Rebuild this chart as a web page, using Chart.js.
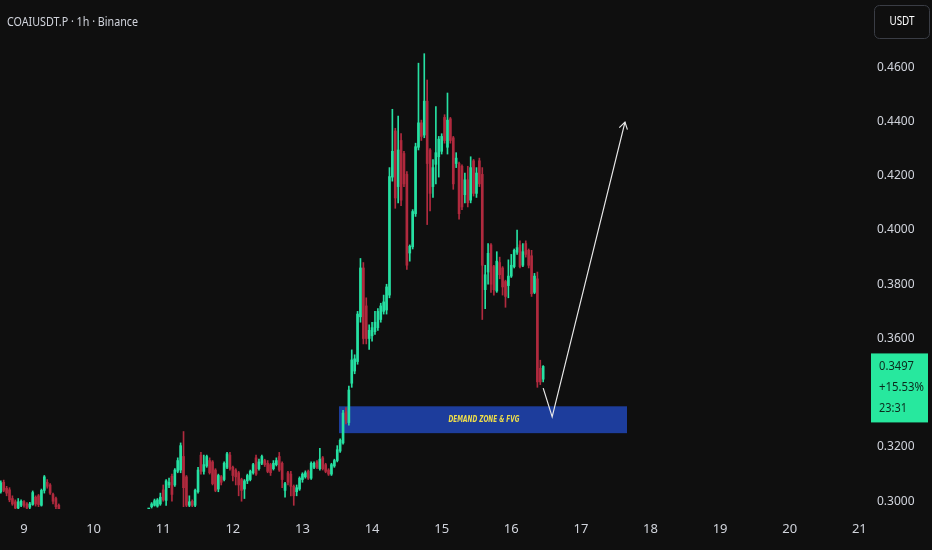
<!DOCTYPE html>
<html>
<head>
<meta charset="utf-8">
<script src="https://cdn.jsdelivr.net/npm/chart.js@4.4.1/dist/chart.umd.min.js"></script>
<style>
  html, body { margin: 0; background: #0f0f0f; }
  #wrap { position: relative; width: 932px; height: 550px; }
</style>
</head>
<body>
<div id="wrap"><canvas id="chart" width="932" height="550"></canvas></div>
<script>
// hourly candles, hour 0 = day 9 00:00, first candle at hour -8
const firstHour = -8
const opens = [
  .3035,.3070,.3048,.3042,.3010,.2998,.2975,.2985,.2998,.2990,.2978,.2988,
  .3015,.3020,.2985,.3040,.3070,.3060,.3025,.3010,.2985,.2960,.2940,.2930,
  .2938,.2920,.2925,.2935,.2945,.2932,.2915,.2922,.2930,.2925,.2908,.2912,
  .2926,.2936,.2930,.2918,.2930,.2940,.2935,.2928,.2936,.2945,.2940,.2948,
  .2942,.2950,.2946,.2955,.2980,.2985,.2982,.2990,.3042,.3003,.3060,.3092,
  .3060,.3110,.3115,.3165,.3090,.2985,.3000,.2985,.3035,.3170,.3110,.3130,
  .3150,.3145,.3115,.3045,.3090,.3080,.3125,.3170,.3125,.3115,.3105,.3080,
  .3045,.3075,.3080,.3105,.3160,.3120,.3140,.3150,.3140,.3135,.3120,.3135,
  .3165,.3140,.3040,.3105,.3100,.3055,.3035,.3045,.3080,.3090,.3110,.3085,
  .3125,.3145,.3120,.3160,.3135,.3115,.3100,.3130,.3150,.3185,.3215,.3330,
  .3290,.3435,.3480,.3515,.3680,.3860,.3720,.3600,.3610,.3625,.3640,.3670,
  .3700,.3705,.3760,.4195,.4365,.4160,.4330,.4282,.4205,.3915,.3938,.4060,
  .4305,.4395,.4350,.4475,.4295,.4160,.4242,.4270,.4290,.4415,.4305,.4410,
  .4340,.4245,.4245,.4235,.4130,.4185,.4110,.4255,.4135,.4255,.4205,.3780,
  .3845,.3945,.3865,.3775,.3880,.3860,.3810,.3795,.3830,.3865,.3918,.3945,
  .3870,.3950,.3925,.3905,.3770,.3820,.3490,.3450
]
const highs = [
  .3075,.3078,.3055,.3050,.3020,.3005,.3010,.3005,.3002,.2995,.2996,.3038,
  .3020,.3025,.3045,.3095,.3080,.3065,.3030,.3015,.2990,.2962,.2950,.2945,
  .2948,.2932,.2940,.2950,.2955,.2940,.2928,.2935,.2942,.2933,.2920,.2930,
  .2940,.2948,.2938,.2935,.2945,.2952,.2944,.2940,.2950,.2955,.2952,.2958,
  .2955,.2960,.2958,.2962,.2995,.3008,.3010,.3030,.3060,.3080,.3085,.3100,
  .3120,.3160,.3215,.3257,.3095,.3020,.3005,.3045,.3125,.3180,.3170,.3170,
  .3160,.3150,.3120,.3100,.3095,.3145,.3180,.3180,.3130,.3120,.3110,.3085,
  .3080,.3100,.3115,.3140,.3170,.3155,.3170,.3155,.3150,.3140,.3150,.3160,
  .3180,.3145,.3070,.3110,.3110,.3060,.3060,.3090,.3105,.3112,.3115,.3145,
  .3145,.3150,.3195,.3165,.3140,.3120,.3140,.3155,.3205,.3230,.3335,.3345,
  .3425,.3558,.3540,.3700,.3895,.3880,.3750,.3650,.3660,.3700,.3710,.3730,
  .3760,.3800,.4230,.4445,.4375,.4420,.4355,.4290,.4215,.3945,.4075,.4320,
  .4615,.4405,.4650,.4553,.4300,.4260,.4455,.4345,.4355,.4425,.4505,.4415,
  .4345,.4285,.4250,.4240,.4210,.4235,.4270,.4260,.4230,.4265,.4230,.3870,
  .3950,.3950,.3870,.3920,.3900,.3865,.3815,.3890,.3910,.3930,.4000,.3960,
  .3950,.3960,.3930,.3925,.3840,.3845,.3520,.3500
]
const lows = [
  .3030,.3035,.3020,.2998,.2985,.2965,.2970,.2980,.2978,.2965,.2972,.2985,
  .2982,.2980,.2982,.3030,.3048,.3025,.2990,.2970,.2960,.2935,.2925,.2920,
  .2915,.2900,.2918,.2928,.2930,.2910,.2905,.2915,.2920,.2900,.2895,.2905,
  .2918,.2925,.2912,.2910,.2922,.2930,.2920,.2915,.2928,.2935,.2930,.2938,
  .2935,.2940,.2938,.2945,.2975,.2982,.2978,.2985,.3000,.2985,.3050,.3000,
  .3055,.3105,.3105,.2980,.2980,.2980,.2980,.2980,.3030,.3100,.3100,.3125,
  .3100,.3060,.3035,.3035,.3060,.3075,.3120,.3115,.3075,.3060,.3020,.3000,
  .3010,.3065,.3075,.3100,.3095,.3115,.3135,.3128,.3105,.3095,.3115,.3130,
  .3110,.3050,.3015,.3060,.3020,.2985,.3020,.3040,.3070,.3085,.3080,.3080,
  .3120,.3120,.3115,.3115,.3105,.3095,.3095,.3125,.3145,.3180,.3210,.3285,
  .3280,.3420,.3470,.3505,.3660,.3580,.3580,.3560,.3590,.3615,.3630,.3660,
  .3690,.3690,.3750,.4180,.4080,.4100,.4090,.4160,.3855,.3885,.3930,.4050,
  .4295,.4330,.4340,.4020,.4070,.4120,.4170,.4195,.4280,.4320,.4280,.4320,
  .4150,.4230,.4040,.4075,.4100,.4085,.4100,.4125,.4120,.4160,.3670,.3710,
  .3800,.3770,.3760,.3770,.3820,.3760,.3715,.3750,.3825,.3860,.3910,.3860,
  .3865,.3900,.3860,.3755,.3765,.3420,.3430,.3440
]
const closes = [
  .3068,.3040,.3030,.3005,.2990,.2975,.2998,.3000,.2985,.2975,.2990,.3032,
  .2990,.2988,.3040,.3090,.3055,.3030,.3000,.2980,.2970,.2940,.2930,.2938,
  .2920,.2925,.2935,.2945,.2932,.2915,.2922,.2930,.2925,.2908,.2912,.2926,
  .2936,.2930,.2918,.2930,.2940,.2935,.2928,.2936,.2945,.2940,.2948,.2942,
  .2950,.2946,.2955,.2958,.2990,.3002,.3005,.3015,.3005,.3075,.3070,.3025,
  .3115,.3150,.3205,.3050,.2985,.2998,.2985,.3040,.3115,.3110,.3135,.3165,
  .3105,.3065,.3040,.3095,.3070,.3140,.3175,.3120,.3095,.3090,.3060,.3040,
  .3075,.3095,.3110,.3135,.3100,.3145,.3165,.3135,.3110,.3105,.3140,.3150,
  .3115,.3080,.3065,.3070,.3055,.3020,.3050,.3085,.3100,.3105,.3085,.3140,
  .3140,.3125,.3155,.3120,.3110,.3100,.3135,.3150,.3190,.3225,.3325,.3300,
  .3410,.3521,.3525,.3690,.3860,.3600,.3600,.3630,.3640,.3660,.3700,.3720,
  .3735,.3790,.4197,.4290,.4118,.4295,.4110,.4170,.3870,.3940,.4068,.4307,
  .4395,.4345,.4475,.4245,.4135,.4230,.4285,.4335,.4345,.4330,.4405,.4330,
  .4170,.4265,.4060,.4085,.4185,.4100,.4230,.4135,.4210,.4170,.3870,.3835,
  .3914,.3800,.3780,.3885,.3835,.3790,.3755,.3830,.3870,.3925,.3935,.3865,
  .3920,.3910,.3870,.3765,.3830,.3440,.3440,.3497
]

const dayLabels = [9, 10, 11, 12, 13, 14, 15, 16, 17, 18, 19, 20, 21]
const priceTicks = [0.30, 0.32, 0.34, 0.36, 0.38, 0.40, 0.42, 0.44, 0.46]

// demand zone box and the drawn arrow (hours / prices)
const zoneHours = [108.6, 207.9]
const zonePrices = [0.3251, 0.3350]
const arrowHours = [179, 182.1, 207.2]
const arrowPrices = [0.3417, 0.3311, 0.4398]

const lastPrice = 0.3497
const lastChange = '+15.53%'
const countdown = '23:31'

const upColor = '#26e0a2'
const downColor = '#b02a3e'

const hours = opens.map((v, i) => firstHour + i)
const candleColors = opens.map((o, i) => closes[i] >= o ? upColor : downColor)

function fitText(ctx, text, x, y, width, align){
    const w = ctx.measureText(text).width
    ctx.save()
    ctx.translate(x, y)
    ctx.scale(width / w, 1)
    ctx.textAlign = align || 'left'
    ctx.fillText(text, 0, 0)
    ctx.restore()
}

function noPadding(axis){
    axis.paddingTop = 0
    axis.paddingBottom = 0
    axis.paddingLeft = 0
    axis.paddingRight = 0
}

const overlay = {
    id: 'overlay',
    beforeDatasetsDraw(chart){
        const ctx = chart.ctx
        const x = chart.scales.x, y = chart.scales.y
        const x1 = x.getPixelForValue(zoneHours[0]), x2 = x.getPixelForValue(zoneHours[1])
        const y1 = y.getPixelForValue(zonePrices[1]), y2 = y.getPixelForValue(zonePrices[0])
        ctx.save()
        ctx.fillStyle = '#1d3d9c'
        ctx.fillRect(x1, y1, x2 - x1, y2 - y1)
        ctx.fillStyle = '#eedd4a'
        ctx.font = "italic bold 8px 'DejaVu Sans Condensed'"
        ctx.textBaseline = 'middle'
        fitText(ctx, 'DEMAND ZONE & FVG', (x1 + x2) / 2 + 1, (y1 + y2) / 2, 71, 'center')
        ctx.restore()
    },
    afterDatasetsDraw(chart){
        // arrow head at the end of the drawn path
        const ctx = chart.ctx
        const pts = chart.getDatasetMeta(2).data
        const a = pts[pts.length - 2], b = pts[pts.length - 1]
        const ang = Math.atan2(b.y - a.y, b.x - a.x)
        ctx.save()
        ctx.strokeStyle = '#e8e8e8'
        ctx.lineWidth = 1.2
        ctx.beginPath()
        ctx.moveTo(b.x - 8 * Math.cos(ang - 0.55), b.y - 8 * Math.sin(ang - 0.55))
        ctx.lineTo(b.x, b.y)
        ctx.lineTo(b.x - 8 * Math.cos(ang + 0.55), b.y - 8 * Math.sin(ang + 0.55))
        ctx.stroke()
        ctx.restore()
    },
    afterDraw(chart){
        const ctx = chart.ctx
        const y = chart.scales.y
        ctx.save()
        // title
        ctx.fillStyle = '#d1d4dc'
        ctx.font = "13px 'Noto Sans'"
        ctx.textBaseline = 'middle'
        fitText(ctx, 'COAIUSDT.P · 1h · Binance', 7, 22, 131)

        // currency button
        ctx.strokeStyle = '#3a3d45'
        ctx.lineWidth = 1
        ctx.beginPath()
        ctx.roundRect(874.5, 5.5, 55, 33, 5)
        ctx.stroke()
        ctx.fillStyle = '#ffffff'
        ctx.font = "12px 'Noto Sans'"
        fitText(ctx, 'USDT', 902, 22, 25, 'center')

        // last price tag
        const py = y.getPixelForValue(lastPrice)
        ctx.fillStyle = '#27e89e'
        ctx.fillRect(871, py - 13, 57, 69)
        ctx.fillStyle = '#0b2a1d'
        ctx.font = "13px 'Noto Sans'"
        fitText(ctx, lastPrice.toFixed(4), 879, py, 35)
        fitText(ctx, lastChange, 879, py + 21, 45)
        fitText(ctx, countdown, 879, py + 42, 28)
        ctx.restore()
    }
}

new Chart(document.getElementById('chart'), {
    type: 'bar',
    data: {
        datasets: [{
            label: 'wicks',
            data: hours.map((h, i) => ({x: h, y: [lows[i], highs[i]]})),
            backgroundColor: candleColors,
            barThickness: 1,
            grouped: false
        }, {
            label: 'bodies',
            data: hours.map((h, i) => ({x: h, y: [opens[i], closes[i]]})),
            backgroundColor: candleColors,
            barThickness: 2,
            minBarLength: 1,
            grouped: false
        }, {
            type: 'line',
            label: 'path',
            data: arrowHours.map((h, i) => ({x: h, y: arrowPrices[i]})),
            borderColor: '#e8e8e8',
            borderWidth: 1.2,
            pointRadius: 0,
            tension: 0
        }]
    },
    options: {
        responsive: false,
        animation: false,
        devicePixelRatio: 1,
        layout: { padding: 0 },
        plugins: { legend: { display: false }, tooltip: { enabled: false } },
        scales: {
            x: {
                type: 'linear',
                min: -8.28,
                max: 290.3,
                offset: false,
                grid: { display: false, drawTicks: false },
                border: { display: false },
                afterBuildTicks: (axis) => { axis.ticks = dayLabels.map(d => ({value: (d - 9) * 24})) },
                afterFit: (axis) => { axis.height = 41; noPadding(axis) },
                ticks: {
                    color: '#d1d4dc',
                    font: { family: 'Noto Sans', size: 13 },
                    padding: 12,
                    maxRotation: 0,
                    autoSkip: false,
                    callback: (v) => String(Math.round(9 + v / 24))
                }
            },
            y: {
                type: 'linear',
                position: 'right',
                min: 0.29714,
                max: 0.48479,
                grid: { display: false, drawTicks: false },
                border: { display: false },
                afterBuildTicks: (axis) => { axis.ticks = priceTicks.map(v => ({value: v})) },
                afterFit: (axis) => { axis.width = 66; noPadding(axis) },
                ticks: {
                    color: '#d1d4dc',
                    font: { family: 'Noto Sans', size: 12 },
                    padding: 11,
                    callback: (v) => v.toFixed(4)
                }
            }
        }
    },
    plugins: [overlay]
})
</script>
</body>
</html>
